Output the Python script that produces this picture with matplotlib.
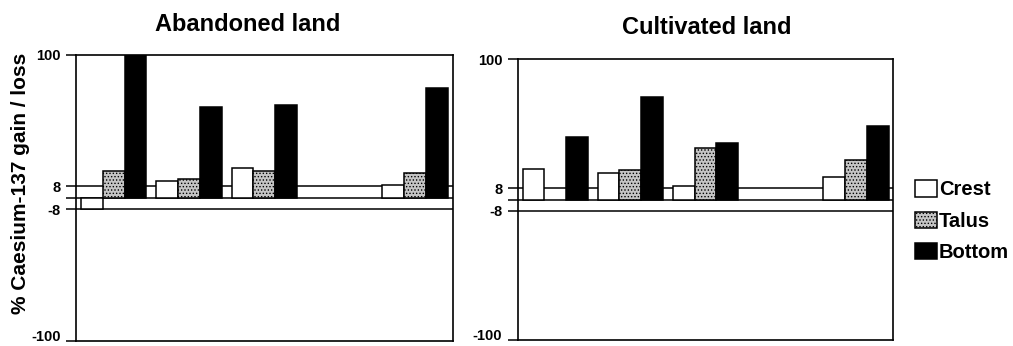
import numpy as np
import matplotlib
matplotlib.use("Agg")
import matplotlib.pyplot as plt
import matplotlib.transforms as mtransforms
from matplotlib.patches import Patch

plt.rcParams['font.family'] = ['Liberation Sans', 'DejaVu Sans']
plt.rcParams['font.weight'] = 'bold'
plt.rcParams['hatch.linewidth'] = 0.6

nan = np.nan
sites = ['1', '2', '3', '4', '5']
series = ['Crest', 'Talus', 'Bottom']

abandoned_crest = [-7.7, 11.9, 21.2, nan, 9.1]
abandoned_talus = [19.1, 13.1, 19.1, nan, 17.7]
abandoned_bottom = [100, 63.8, 65, nan, 77.1]

cultivated_crest = [21.5, 19.1, 9.8, nan, 15.8]
cultivated_talus = [nan, 21, 36.4, nan, 28.1]
cultivated_bottom = [44.7, 73.2, 40, nan, 52.5]

yticks = [100, 8, 0, -8, -100]
yticklabels = ['100', '8', '', '-8', '-100']

styles = {
    'Crest': dict(facecolor='white', hatch=None),
    'Talus': dict(facecolor='#c4c4c4', hatch='.....'),
    'Bottom': dict(facecolor='black', hatch=None),
}

fig = plt.figure(figsize=(10.13, 3.46), dpi=100)
ax1 = fig.add_axes([0.075, 0.0145, 0.372, 0.827])
ax2 = fig.add_axes([0.511, 0.0173, 0.371, 0.812])


def draw(ax, crest, talus, bottom):
    x = np.arange(len(sites))
    w = 0.29
    for off, name, vals in [(-w, 'Crest', crest), (0, 'Talus', talus), (w, 'Bottom', bottom)]:
        st = styles[name]
        ax.bar(x + off, vals, width=w, facecolor=st['facecolor'], hatch=st['hatch'],
               edgecolor='black', linewidth=1.1, zorder=3)
    for yv in [8, 0, -8]:
        ax.axhline(yv, color='black', linewidth=1.1, zorder=1)
    ax.set_xlim(-0.5, len(sites) - 0.5)
    ax.set_ylim(-100, 100)
    ax.set_xticks([])
    ax.set_yticks(yticks)
    ax.set_yticklabels(yticklabels, fontsize=10.5, fontweight='bold')
    ax.tick_params(axis='y', direction='out', length=7, width=1.1, pad=4)
    # lift the -100 label a little so it stays inside the picture
    lab = ax.get_yticklabels()[-1]
    lab.set_transform(lab.get_transform() +
                      mtransforms.ScaledTranslation(0, 4 / 72, fig.dpi_scale_trans))
    for s in ax.spines.values():
        s.set_linewidth(1.2)


draw(ax1, abandoned_crest, abandoned_talus, abandoned_bottom)
draw(ax2, cultivated_crest, cultivated_talus, cultivated_bottom)

fig.text(0.245, 0.93, 'Abandoned land', ha='center', va='center', fontsize=17, fontweight='bold')
fig.text(0.698, 0.92, 'Cultivated land', ha='center', va='center', fontsize=17, fontweight='bold')
fig.text(0.02, 0.47, '% Caesium-137 gain / loss', rotation=90, ha='center', va='center',
         fontsize=15, fontweight='bold')

handles = [Patch(facecolor=styles[n]['facecolor'], hatch=styles[n]['hatch'],
                 edgecolor='black', linewidth=1.1, label=n) for n in series]
fig.legend(handles=handles, loc='center left', bbox_to_anchor=(0.895, 0.36),
           frameon=False, prop={'size': 14.5, 'weight': 'bold'},
           handlelength=1.1, handleheight=0.85, handletextpad=0.1, labelspacing=0.62,
           borderaxespad=0)

fig.savefig('out.png', dpi=100)
